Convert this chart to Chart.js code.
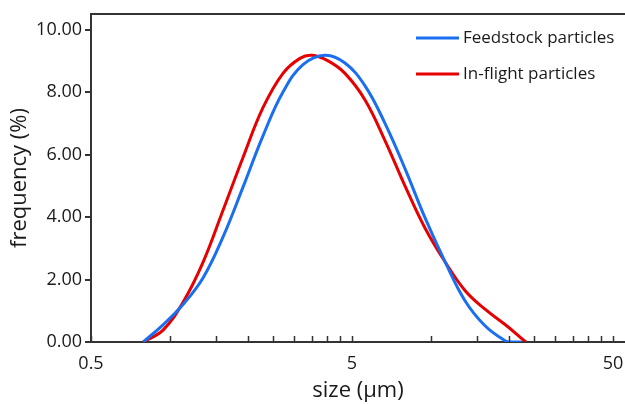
<!DOCTYPE html>
<html>
<head>
<meta charset="utf-8">
<script src="https://cdn.jsdelivr.net/npm/chart.js"></script>
<style>
  html, body { margin: 0; padding: 0; background: #fff; }
  #wrap { width: 625px; height: 404px; }
</style>
</head>
<body>
<div id="wrap"><canvas id="sizeChart"></canvas></div>
<script>
// valores
const feedSize = [0.793, 0.944, 1.126, 1.343, 1.60, 1.91, 2.28, 2.72, 3.245, 3.94, 4.70, 5.61, 6.69, 7.98, 9.52, 11.36, 13.55, 16.17, 19.3, 20.2, 22.4];
const feedFreq = [0, 0.55, 1.2, 2.05, 3.35, 4.95, 6.6, 8.0, 8.88, 9.18, 8.93, 8.2, 7.0, 5.55, 3.98, 2.57, 1.32, 0.52, 0.04, 0, 0];

const flightSize = [0.793, 0.944, 1.126, 1.343, 1.60, 1.91, 2.28, 2.72, 3.16, 3.51, 4.05, 4.70, 5.61, 6.69, 7.98, 9.52, 11.36, 13.55, 16.17, 19.3, 23.2];
const flightFreq = [0, 0.38, 1.27, 2.55, 4.2, 5.9, 7.5, 8.6, 9.08, 9.18, 9.0, 8.6, 7.75, 6.45, 5.0, 3.65, 2.57, 1.65, 1.05, 0.56, 0];

const seriesLabels = ['Feedstock particles', 'In-flight particles'];
const xTicks = [0.5, 1, 1.5, 2, 2.5, 3, 3.5, 4, 4.5, 5, 10, 15, 20, 25, 30, 35, 40, 45, 50];
const xLabels = [0.5, 5, 50];
const yTicks = [0, 2, 4, 6, 8, 10];

const axisColor = '#333333';
const textColor = '#1a1a1a';
const fontFamily = '"Open Sans", "Noto Sans", sans-serif';

function toPoints(xs, ys) {
    return xs.map((x, i) => ({ x: x, y: ys[i] }));
}

// moldura superior, ticks internos do eixo x e legenda
const framePlugin = {
    id: 'frame',
    afterDraw(chart) {
        const ctx = chart.ctx;
        const area = chart.chartArea;
        const xs = chart.scales.x;
        ctx.save();
        ctx.strokeStyle = axisColor;
        ctx.lineWidth = 2;
        ctx.beginPath();
        ctx.moveTo(area.left - 1, area.top);
        ctx.lineTo(area.right, area.top);
        ctx.stroke();

        ctx.lineWidth = 1.5;
        xTicks.forEach(v => {
            const p = Math.round(xs.getPixelForValue(v)) + 0.5;
            ctx.beginPath();
            ctx.moveTo(p, area.bottom);
            ctx.lineTo(p, area.bottom - 6);
            ctx.stroke();
        });

        // legenda
        ctx.font = '17px ' + fontFamily;
        ctx.textBaseline = 'middle';
        ctx.fillStyle = textColor;
        chart.data.datasets.forEach((ds, i) => {
            const y = 38 + i * 36;
            ctx.strokeStyle = ds.borderColor;
            ctx.lineWidth = 3;
            ctx.beginPath();
            ctx.moveTo(416, y);
            ctx.lineTo(459, y);
            ctx.stroke();
            ctx.fillText(ds.label, 463, y);
        });
        ctx.restore();
    }
};

const ctx = document.getElementById('sizeChart').getContext('2d');
new Chart(ctx, {
    type: 'scatter',
    data: {
        datasets: [{
            label: seriesLabels[0],
            data: toPoints(feedSize, feedFreq),
            showLine: true,
            borderColor: '#1a6ef0',
            borderWidth: 3,
            pointRadius: 0,
            tension: 0.4
        }, {
            label: seriesLabels[1],
            data: toPoints(flightSize, flightFreq),
            showLine: true,
            borderColor: '#e60000',
            borderWidth: 3,
            pointRadius: 0,
            tension: 0.4
        }]
    },
    options: {
        responsive: true,
        maintainAspectRatio: false,
        animation: false,
        layout: { padding: { top: 14, right: 0, left: 0, bottom: 0 } },
        plugins: {
            legend: { display: false },
            tooltip: { enabled: false }
        },
        scales: {
            x: {
                type: 'logarithmic',
                min: 0.5,
                max: 55.6,
                afterBuildTicks(scale) {
                    scale.ticks = xTicks.map(v => ({ value: v }));
                },
                afterFit(scale) {
                    scale.height = 62;
                    scale.paddingLeft = 0;
                    scale.paddingRight = 0;
                },
                grid: { display: false },
                border: { display: true, color: axisColor, width: 2 },
                ticks: {
                    autoSkip: false,
                    maxRotation: 0,
                    padding: 3,
                    color: textColor,
                    font: { family: fontFamily, size: 18 },
                    callback: v => xLabels.includes(v) ? String(v) : ''
                },
                title: {
                    display: true,
                    text: 'size (µm)',
                    color: textColor,
                    font: { family: fontFamily, size: 22 },
                    padding: { top: 0, bottom: 0 }
                }
            },
            y: {
                min: 0,
                max: 10.5,
                afterBuildTicks(scale) {
                    scale.ticks = yTicks.map(v => ({ value: v }));
                },
                afterFit(scale) {
                    scale.width = 91;
                    scale.paddingTop = 0;
                    scale.paddingBottom = 0;
                },
                grid: {
                    drawOnChartArea: false,
                    color: axisColor,
                    lineWidth: 2,
                    tickLength: 6
                },
                border: { display: true, color: axisColor, width: 2 },
                ticks: {
                    padding: 3,
                    color: textColor,
                    font: { family: fontFamily, size: 18 },
                    callback: v => v.toFixed(2)
                },
                title: {
                    display: true,
                    text: 'frequency (%)',
                    color: textColor,
                    font: { family: fontFamily, size: 22 },
                    padding: { top: 7, bottom: 0 }
                }
            }
        }
    },
    plugins: [framePlugin]
});
</script>
</body>
</html>
